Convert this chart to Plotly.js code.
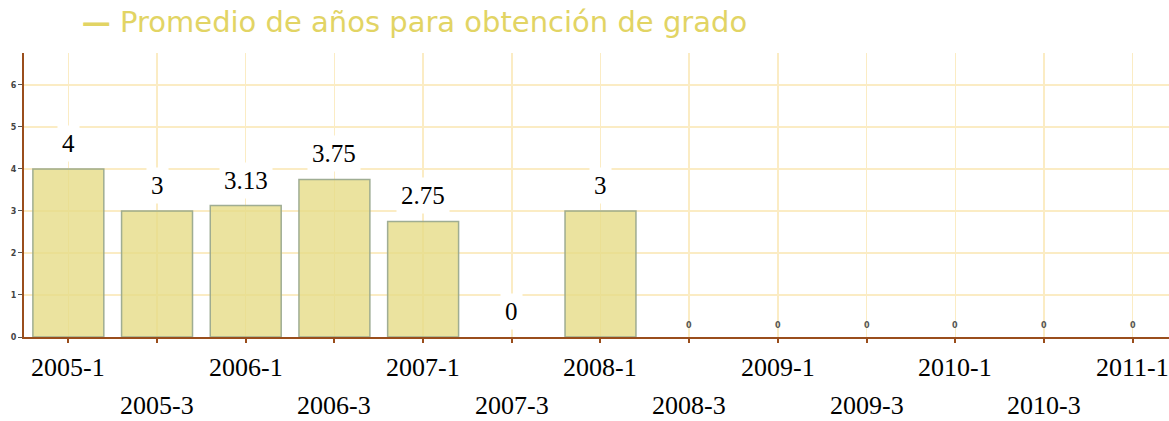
<!DOCTYPE html>
<html>
<head>
<meta charset="utf-8">
<script src="https://cdn.plot.ly/plotly-3.0.1.min.js"></script>
<style>html,body{margin:0;padding:0;background:#fff;}#chart{width:1169px;height:421px;}</style>
</head>
<body>
<div id="chart"></div>
<script>
const categories = ["2005-1","2005-3","2006-1","2006-3","2007-1","2007-3","2008-1","2008-3","2009-1","2009-3","2010-1","2010-3","2011-1"];
const values = [4, 3, 3.13, 3.75, 2.75, 0, 3, 0, 0, 0, 0, 0, 0];
const valueLabels = ["4","3","3.13","3.75","2.75","0","3","0","0","0","0","0","0"];
const largeLabel = [true,true,true,true,true,true,true,false,false,false,false,false,false];
const labelRow = [0,1,0,1,0,1,0,1,0,1,0,1,0];
const seriesName = "Promedio de años para obtención de grado";
const yTicks = [0,1,2,3,4,5,6];

const trace = {
  type: "bar",
  x: categories,
  y: values,
  marker: {
    color: "rgba(230,220,135,0.8)",
    line: {color: "rgba(150,165,140,0.9)", width: values.map(v => v > 0 ? 1.5 : 0)}
  },
  hoverinfo: "skip",
  showlegend: false
};

const annotations = [];
categories.forEach((c, i) => {
  if (largeLabel[i]) {
    annotations.push({
      x: c, y: values[i], xref: "x", yref: "y",
      text: valueLabels[i], showarrow: false,
      yanchor: "bottom", yshift: 7,
      bgcolor: "#ffffff", borderpad: 4,
      font: {family: "Liberation Serif, Times New Roman, serif", size: 25, color: "#000"}
    });
  } else {
    annotations.push({
      x: c, y: values[i], xref: "x", yref: "y",
      text: "<b>" + valueLabels[i] + "</b>", showarrow: false,
      yanchor: "bottom", yshift: 5,
      font: {family: "DejaVu Sans, Verdana, sans-serif", size: 8, color: "#555"}
    });
  }
  annotations.push({
    x: c, y: 0, xref: "x", yref: "y",
    text: c, showarrow: false,
    yanchor: "middle", yshift: labelRow[i] ? -68 : -30,
    font: {family: "Liberation Serif, Times New Roman, serif", size: 26, color: "#000"}
  });
});

const layout = {
  width: 1169, height: 421,
  margin: {l: 24, r: 0, t: 53, b: 84},
  paper_bgcolor: "#fff", plot_bgcolor: "#fff",
  bargap: 0.2,
  title: {
    text: "<b>—</b> " + seriesName,
    x: 0.07, xanchor: "left", y: 0.948, yanchor: "middle",
    font: {family: "DejaVu Sans, Verdana, sans-serif", size: 29, color: "rgb(226,212,100)"}
  },
  xaxis: {
    type: "category",
    range: [-0.5, 12.41],
    showgrid: true, gridcolor: "#fbecc4", gridwidth: 1.5,
    showline: true, linecolor: "#9a4e1c", linewidth: 2,
    ticks: "outside", ticklen: 4, tickcolor: "#9a4e1c", tickwidth: 2,
    showticklabels: false,
    fixedrange: true
  },
  yaxis: {
    range: [0, 6.76],
    tickvals: yTicks,
    showgrid: true, gridcolor: "#fbecc4", gridwidth: 1.5,
    zeroline: false,
    showline: true, linecolor: "#9a4e1c", linewidth: 2,
    ticks: "outside", ticklen: 4, tickcolor: "#555", tickwidth: 1,
    tickfont: {family: "DejaVu Sans, Verdana, sans-serif", size: 8, color: "#444", weight: "bold"},
    fixedrange: true
  },
  annotations: annotations
};

Plotly.newPlot("chart", [trace], layout, {displayModeBar: false, staticPlot: true});
</script>
</body>
</html>
